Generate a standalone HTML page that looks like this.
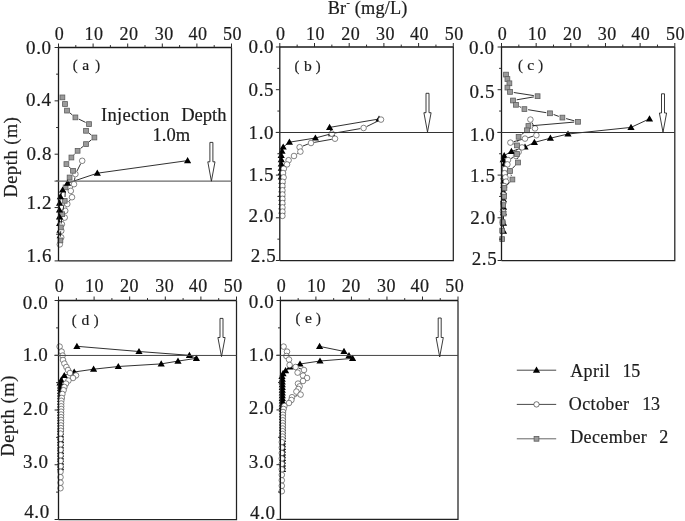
<!DOCTYPE html>
<html lang="en"><head><meta charset="utf-8"><title>Br concentration depth profiles</title>
<style>
html,body{margin:0;padding:0;background:#fff;}
body{width:685px;height:521px;overflow:hidden;}
svg{display:block;}
text{font-family:"Liberation Serif", serif;fill:#1c1c1c;stroke:#1c1c1c;stroke-width:0.2px;}
.tk{font-size:18px;letter-spacing:0.5px;}
.ty{font-size:19px;letter-spacing:0.6px;}
.lb{font-size:14.6px;letter-spacing:0.25px;}
.ti{font-size:17.5px;letter-spacing:0.5px;}
.lg{font-size:18px;letter-spacing:0.37px;}
.an{font-size:18.5px;letter-spacing:0.33px;}
</style></head><body>
<svg width="685" height="521" viewBox="0 0 685 521">
<rect x="0" y="0" width="685" height="521" fill="#fff"/>
<text x="327.7" y="14.1" class="ti" style="font-size:18.3px;letter-spacing:0.2px">Br<tspan dy="-8.5" font-size="10">-</tspan><tspan dy="8.5"> (mg/L)</tspan></text>
<text transform="translate(16.9,157) rotate(-90)" text-anchor="middle" class="ti" style="font-size:18.3px;letter-spacing:0.6px">Depth (m)</text>
<text transform="translate(13.8,415.8) rotate(-90)" text-anchor="middle" class="ti" style="font-size:18.3px;letter-spacing:0.65px">Depth (m)</text>
<g id="panel-a">
<path d="M187.6,160.6 L97.3,173.2 L67.5,183.2 L62.6,190.0 L60.4,196.6 L59.6,203.2 L59.5,210.0 L59.5,216.8 L59.6,223.5 L60.0,230.2 L60.2,235.6" fill="none" stroke="#1a1a1a" stroke-width="0.9"/>
<path d="M56.0,226.1 L63.2,226.1 L59.6,219.9 Z M56.4,232.8 L63.6,232.8 L60.0,226.6 Z M56.6,238.2 L63.8,238.2 L60.2,232.0 Z" fill="#000" stroke="none"/>
<path d="M80.7,163.7 L76.9,171.2 M74.9,177.4 L74.5,180.9 M72.6,187.2 L72.2,187.9 M70.1,199.9 L69.2,201.3 M66.3,207.2 L66.2,207.6 M63.4,220.6 L63.2,221.2 M60.6,240.6 L60.4,241.2" fill="none" stroke="#1a1a1a" stroke-width="0.9"/>
<g fill="#fff" stroke="#444" stroke-width="0.65">
<circle cx="82.2" cy="160.8" r="2.8"/>
<circle cx="75.4" cy="174.1" r="2.8"/>
<circle cx="74.0" cy="184.2" r="2.8"/>
<circle cx="70.8" cy="190.9" r="2.8"/>
<circle cx="72.0" cy="197.2" r="2.8"/>
<circle cx="67.3" cy="204.0" r="2.8"/>
<circle cx="65.2" cy="210.8" r="2.8"/>
<circle cx="64.7" cy="217.6" r="2.8"/>
<circle cx="61.9" cy="224.2" r="2.8"/>
<circle cx="61.3" cy="230.8" r="2.8"/>
<circle cx="61.2" cy="237.4" r="2.8"/>
<circle cx="59.8" cy="244.4" r="2.8"/>
</g>
<path d="M70.0,113.0 L72.4,115.0 M78.8,119.1 L85.6,122.4 M89.0,133.2 L91.4,135.1 M91.4,139.8 L89.0,141.8 M83.0,146.5 L80.6,148.4 M75.0,153.6 L74.0,154.7 M69.1,160.5 L68.7,161.1 M69.1,166.8 L70.3,168.1 M68.2,181.0 L67.0,183.9 M65.3,191.2 L65.0,197.0 M64.0,204.5 L62.9,210.5 M61.8,218.0 L61.2,223.6 M60.7,231.2 L60.5,236.6" fill="none" stroke="#1a1a1a" stroke-width="0.9"/>
<g fill="#9a9a9a" stroke="#5e5e5e" stroke-width="0.8">
<rect x="60.0" y="95.0" width="4.8" height="4.8"/>
<rect x="62.6" y="101.6" width="4.8" height="4.8"/>
<rect x="64.6" y="108.2" width="4.8" height="4.8"/>
<rect x="73.0" y="115.0" width="4.8" height="4.8"/>
<rect x="86.6" y="121.7" width="4.8" height="4.8"/>
<rect x="83.6" y="128.4" width="4.8" height="4.8"/>
<rect x="92.0" y="135.1" width="4.8" height="4.8"/>
<rect x="83.6" y="141.7" width="4.8" height="4.8"/>
<rect x="75.2" y="148.4" width="4.8" height="4.8"/>
<rect x="69.0" y="155.1" width="4.8" height="4.8"/>
<rect x="64.0" y="161.7" width="4.8" height="4.8"/>
<rect x="70.6" y="168.4" width="4.8" height="4.8"/>
<rect x="67.2" y="175.1" width="4.8" height="4.8"/>
<rect x="63.2" y="185.0" width="4.8" height="4.8"/>
<rect x="62.3" y="198.4" width="4.8" height="4.8"/>
<rect x="59.8" y="211.8" width="4.8" height="4.8"/>
<rect x="58.4" y="225.0" width="4.8" height="4.8"/>
<rect x="58.0" y="238.0" width="4.8" height="4.8"/>
</g>
<path d="M184.0,163.2 L191.2,163.2 L187.6,157.0 Z M93.7,175.8 L100.9,175.8 L97.3,169.6 Z M63.9,185.8 L71.1,185.8 L67.5,179.6 Z M59.0,192.6 L66.2,192.6 L62.6,186.4 Z M56.8,199.2 L64.0,199.2 L60.4,193.0 Z M56.0,205.8 L63.2,205.8 L59.6,199.6 Z M55.9,212.6 L63.1,212.6 L59.5,206.4 Z M55.9,219.4 L63.1,219.4 L59.5,213.2 Z" fill="#000" stroke="none"/>
<path d="M58.5,260.9 L58.5,47.5 L231.5,47.5" fill="none" stroke="#1a1a1a" stroke-width="1.3"/>
<path d="M58.5,260.9 L231.5,260.9 L231.5,47.5" fill="none" stroke="#222" stroke-width="1.25"/>
<path d="M58.50,47.5 v-4.0 M75.80,47.5 v-2.4 M93.10,47.5 v-4.0 M110.40,47.5 v-2.4 M127.70,47.5 v-4.0 M145.00,47.5 v-2.4 M162.30,47.5 v-4.0 M179.60,47.5 v-2.4 M196.90,47.5 v-4.0 M214.20,47.5 v-2.4 M231.50,47.5 v-4.0 M58.5,47.50 h-3.9 M58.5,74.17 h-2.4 M58.5,100.85 h-3.9 M58.5,127.52 h-2.4 M58.5,154.20 h-3.9 M58.5,180.88 h-2.4 M58.5,207.55 h-3.9 M58.5,234.22 h-2.4 M58.5,260.90 h-3.9" fill="none" stroke="#2a2a2a" stroke-width="1"/>
<text x="59.5" y="40.3" text-anchor="middle" class="tk">0</text>
<text x="94.1" y="40.3" text-anchor="middle" class="tk">10</text>
<text x="129.1" y="40.3" text-anchor="middle" class="tk">20</text>
<text x="164.2" y="40.3" text-anchor="middle" class="tk">30</text>
<text x="197.9" y="40.3" text-anchor="middle" class="tk">40</text>
<text x="232.5" y="40.3" text-anchor="middle" class="tk">50</text>
<text x="51.6" y="54.0" text-anchor="end" class="ty">0.0</text>
<text x="51.6" y="105.8" text-anchor="end" class="ty">0.4</text>
<text x="52.0" y="160.0" text-anchor="end" class="ty">0.8</text>
<text x="52.0" y="209.4" text-anchor="end" class="ty">1.2</text>
<text x="52.0" y="261.5" text-anchor="end" class="ty">1.6</text>
<path d="M54.5,181.03 H231.5" stroke="#6a6a6a" stroke-width="1.3" fill="none"/>
<path d="M209.9,142.4 H212.9 V161.8 H215.0 L211.4,181.2 L207.8,161.8 H209.9 Z" fill="#fff" stroke="#262626" stroke-width="0.9" stroke-linejoin="miter"/>
<text y="70.2" class="lb"><tspan x="72.7">(</tspan> <tspan x="82.3" style="font-size:15.6px">a</tspan> <tspan x="95.2">)</tspan></text>
</g>
<g id="panel-b">
<path d="M379.0,119.0 L329.6,127.4 L331.6,133.7 L315.4,138.0 L289.4,142.2 L283.2,147.0 L282.0,151.2 L281.2,155.4 L281.3,159.7 L281.3,164.0 L281.3,168.2 L281.3,172.5 L281.3,176.8 L281.9,181.1 L281.9,185.3 L281.9,189.6 L281.9,193.9 L281.9,198.1 L281.9,202.4 L281.9,206.7 L281.9,210.9" fill="none" stroke="#1a1a1a" stroke-width="0.9"/>
<path d="M375.4,121.6 L382.6,121.6 L379.0,115.4 Z M326.0,130.0 L333.2,130.0 L329.6,123.8 Z M328.0,136.3 L335.2,136.3 L331.6,130.1 Z M311.8,140.6 L319.0,140.6 L315.4,134.4 Z M285.8,144.8 L293.0,144.8 L289.4,138.6 Z M279.6,149.6 L286.8,149.6 L283.2,143.4 Z M278.4,153.8 L285.6,153.8 L282.0,147.6 Z M277.6,158.0 L284.8,158.0 L281.2,151.8 Z M277.7,162.3 L284.9,162.3 L281.3,156.1 Z M277.7,166.6 L284.9,166.6 L281.3,160.4 Z M277.7,170.8 L284.9,170.8 L281.3,164.6 Z M277.7,175.1 L284.9,175.1 L281.3,168.9 Z M277.7,179.4 L284.9,179.4 L281.3,173.2 Z M278.3,183.7 L285.5,183.7 L281.9,177.5 Z M278.3,187.9 L285.5,187.9 L281.9,181.7 Z M278.3,192.2 L285.5,192.2 L281.9,186.0 Z M278.3,196.5 L285.5,196.5 L281.9,190.3 Z M278.3,200.7 L285.5,200.7 L281.9,194.5 Z M278.3,205.0 L285.5,205.0 L281.9,198.8 Z M278.3,209.3 L285.5,209.3 L281.9,203.1 Z M278.3,213.5 L285.5,213.5 L281.9,207.3 Z" fill="#000" stroke="none"/>
<path d="M378.0,121.0 L366.6,126.6 M360.4,128.6 L335.0,133.0 M331.8,139.3 L314.2,142.4 M307.9,144.1 L302.7,146.1 M297.7,153.5 L296.7,154.1" fill="none" stroke="#1a1a1a" stroke-width="0.9"/>
<g fill="#fff" stroke="#444" stroke-width="0.65">
<circle cx="381.0" cy="119.6" r="2.8"/>
<circle cx="363.6" cy="128.0" r="2.8"/>
<circle cx="331.8" cy="133.6" r="2.8"/>
<circle cx="335.0" cy="138.7" r="2.8"/>
<circle cx="311.0" cy="143.0" r="2.8"/>
<circle cx="299.6" cy="147.2" r="2.8"/>
<circle cx="300.4" cy="151.6" r="2.8"/>
<circle cx="294.0" cy="156.0" r="2.8"/>
<circle cx="288.6" cy="160.2" r="2.8"/>
<circle cx="287.0" cy="164.4" r="2.8"/>
<circle cx="283.8" cy="168.8" r="2.8"/>
<circle cx="283.0" cy="173.0" r="2.8"/>
<circle cx="283.6" cy="177.4" r="2.8"/>
<circle cx="282.6" cy="181.8" r="2.8"/>
<circle cx="282.4" cy="186.0" r="2.8"/>
<circle cx="282.4" cy="190.3" r="2.8"/>
<circle cx="282.4" cy="194.5" r="2.8"/>
<circle cx="282.4" cy="198.8" r="2.8"/>
<circle cx="282.4" cy="203.1" r="2.8"/>
<circle cx="282.4" cy="207.4" r="2.8"/>
<circle cx="282.4" cy="211.6" r="2.8"/>
<circle cx="282.4" cy="215.9" r="2.8"/>
</g>
<path d="M279.8,260.5 L279.8,47.0 L453.3,47.0" fill="none" stroke="#1a1a1a" stroke-width="1.3"/>
<path d="M279.8,260.5 L453.3,260.5 L453.3,47.0" fill="none" stroke="#222" stroke-width="1.25"/>
<path d="M279.80,47.0 v-4.0 M297.15,47.0 v-2.4 M314.50,47.0 v-4.0 M331.85,47.0 v-2.4 M349.20,47.0 v-4.0 M366.55,47.0 v-2.4 M383.90,47.0 v-4.0 M401.25,47.0 v-2.4 M418.60,47.0 v-4.0 M435.95,47.0 v-2.4 M453.30,47.0 v-4.0 M279.8,47.00 h-3.9 M279.8,68.35 h-2.4 M279.8,89.70 h-3.9 M279.8,111.05 h-2.4 M279.8,132.40 h-3.9 M279.8,153.75 h-2.4 M279.8,175.10 h-3.9 M279.8,196.45 h-2.4 M279.8,217.80 h-3.9 M279.8,239.15 h-2.4 M279.8,260.50 h-3.9" fill="none" stroke="#2a2a2a" stroke-width="1"/>
<text x="280.8" y="39.8" text-anchor="middle" class="tk">0</text>
<text x="315.5" y="39.8" text-anchor="middle" class="tk">10</text>
<text x="350.7" y="39.8" text-anchor="middle" class="tk">20</text>
<text x="385.6" y="39.8" text-anchor="middle" class="tk">30</text>
<text x="419.6" y="39.8" text-anchor="middle" class="tk">40</text>
<text x="454.3" y="39.8" text-anchor="middle" class="tk">50</text>
<text x="274.1" y="52.5" text-anchor="end" class="ty">0.0</text>
<text x="274.1" y="95.7" text-anchor="end" class="ty">0.5</text>
<text x="274.1" y="138.9" text-anchor="end" class="ty">1.0</text>
<text x="274.1" y="180.6" text-anchor="end" class="ty">1.5</text>
<text x="274.1" y="222.4" text-anchor="end" class="ty">2.0</text>
<text x="276.4" y="262.4" text-anchor="end" class="ty">2.5</text>
<path d="M275.8,132.50 H453.3" stroke="#333" stroke-width="1.0" fill="none"/>
<path d="M426.0,93.3 H429.0 V112.7 H431.1 L427.5,132.0 L423.9,112.7 H426.0 Z" fill="#fff" stroke="#262626" stroke-width="0.9" stroke-linejoin="miter"/>
<text y="70.6" class="lb"><tspan x="294.4">(</tspan> <tspan x="304.0" style="font-size:15.6px">b</tspan> <tspan x="315.7">)</tspan></text>
</g>
<g id="panel-c">
<path d="M649.5,118.8 L631.0,127.4 L568.0,134.0 L550.4,138.2 L534.4,142.4 L525.0,147.0 L511.4,151.4 L504.2,155.6 L503.2,159.6 L504.4,163.9 L504.4,168.2 L504.4,172.4 L503.8,176.7 L503.8,181.0 L503.8,185.3 L503.5,191.6 L503.5,199.6 L503.5,207.2 L503.5,212.6 L503.5,223.2 L503.5,231.2" fill="none" stroke="#1a1a1a" stroke-width="0.9"/>
<path d="M645.9,121.4 L653.1,121.4 L649.5,115.2 Z M627.4,130.0 L634.6,130.0 L631.0,123.8 Z M564.4,136.6 L571.6,136.6 L568.0,130.4 Z M546.8,140.8 L554.0,140.8 L550.4,134.6 Z M530.8,145.0 L538.0,145.0 L534.4,138.8 Z M521.4,149.6 L528.6,149.6 L525.0,143.4 Z M507.8,154.0 L515.0,154.0 L511.4,147.8 Z M500.6,158.2 L507.8,158.2 L504.2,152.0 Z M499.6,162.2 L506.8,162.2 L503.2,156.0 Z M500.8,166.5 L508.0,166.5 L504.4,160.3 Z M500.8,170.8 L508.0,170.8 L504.4,164.6 Z M500.8,175.0 L508.0,175.0 L504.4,168.8 Z M500.2,179.3 L507.4,179.3 L503.8,173.1 Z M500.2,183.6 L507.4,183.6 L503.8,177.4 Z M500.2,187.9 L507.4,187.9 L503.8,181.7 Z M499.9,194.2 L507.1,194.2 L503.5,188.0 Z M499.9,202.2 L507.1,202.2 L503.5,196.0 Z M499.9,209.8 L507.1,209.8 L503.5,203.6 Z M499.9,215.2 L507.1,215.2 L503.5,209.0 Z M499.9,225.8 L507.1,225.8 L503.5,219.6 Z M499.9,233.8 L507.1,233.8 L503.5,227.6 Z" fill="#000" stroke="none"/>
<path d="M531.9,122.5 L533.5,125.5 M533.2,136.1 L528.2,137.7 M521.8,139.5 L513.6,141.7 M513.4,143.9 L519.0,146.1 M513.0,157.5 L511.0,158.5 M503.8,189.3 L503.6,191.2 M503.3,197.8 L503.3,199.7 M503.1,206.3 L503.1,208.3 M502.9,214.9 L502.9,219.0" fill="none" stroke="#1a1a1a" stroke-width="0.9"/>
<g fill="#fff" stroke="#444" stroke-width="0.65">
<circle cx="530.4" cy="119.6" r="2.8"/>
<circle cx="535.0" cy="128.4" r="2.8"/>
<circle cx="536.4" cy="135.2" r="2.8"/>
<circle cx="525.0" cy="138.6" r="2.8"/>
<circle cx="510.4" cy="142.6" r="2.8"/>
<circle cx="522.0" cy="147.4" r="2.8"/>
<circle cx="518.6" cy="152.0" r="2.8"/>
<circle cx="516.0" cy="156.0" r="2.8"/>
<circle cx="508.0" cy="160.0" r="2.8"/>
<circle cx="507.4" cy="164.4" r="2.8"/>
<circle cx="505.0" cy="169.0" r="2.8"/>
<circle cx="504.6" cy="173.2" r="2.8"/>
<circle cx="505.4" cy="177.4" r="2.8"/>
<circle cx="506.0" cy="181.6" r="2.8"/>
<circle cx="504.0" cy="186.0" r="2.8"/>
<circle cx="503.4" cy="194.5" r="2.8"/>
<circle cx="503.2" cy="203.0" r="2.8"/>
<circle cx="503.0" cy="211.6" r="2.8"/>
<circle cx="502.8" cy="222.3" r="2.8"/>
</g>
<path d="M513.8,92.5 L533.8,95.6 M533.9,96.9 L516.7,99.8 M519.4,106.5 L521.0,107.4 M528.1,109.7 L546.3,112.7 M553.6,114.5 L558.8,116.4 M566.1,118.6 L574.3,120.8 M574.2,122.1 L532.2,125.7 M524.0,132.6 L521.6,134.5 M517.9,140.5 L517.7,141.7 M517.0,149.2 L517.0,150.2 M517.4,157.8 L517.6,158.7 M515.4,165.3 L512.6,168.2 M511.0,174.7 L511.4,175.8 M509.8,182.3 L507.0,185.2 M504.2,191.8 L504.2,192.8 M503.6,200.4 L503.6,201.3 M503.4,208.9 L503.4,209.8 M503.1,217.4 L503.0,218.3 M502.4,225.9 L502.3,226.8 M502.2,234.4 L502.2,235.3" fill="none" stroke="#1a1a1a" stroke-width="0.9"/>
<g fill="#9a9a9a" stroke="#5e5e5e" stroke-width="0.8">
<rect x="503.6" y="72.2" width="4.8" height="4.8"/>
<rect x="505.0" y="76.6" width="4.8" height="4.8"/>
<rect x="507.0" y="80.9" width="4.8" height="4.8"/>
<rect x="505.0" y="85.2" width="4.8" height="4.8"/>
<rect x="507.6" y="89.5" width="4.8" height="4.8"/>
<rect x="535.2" y="93.8" width="4.8" height="4.8"/>
<rect x="510.6" y="98.1" width="4.8" height="4.8"/>
<rect x="513.6" y="102.4" width="4.8" height="4.8"/>
<rect x="522.0" y="106.7" width="4.8" height="4.8"/>
<rect x="547.6" y="110.9" width="4.8" height="4.8"/>
<rect x="560.0" y="115.2" width="4.8" height="4.8"/>
<rect x="575.6" y="119.4" width="4.8" height="4.8"/>
<rect x="526.0" y="123.6" width="4.8" height="4.8"/>
<rect x="524.6" y="127.9" width="4.8" height="4.8"/>
<rect x="516.2" y="134.4" width="4.8" height="4.8"/>
<rect x="514.6" y="143.0" width="4.8" height="4.8"/>
<rect x="514.6" y="151.6" width="4.8" height="4.8"/>
<rect x="515.6" y="160.1" width="4.8" height="4.8"/>
<rect x="507.6" y="168.6" width="4.8" height="4.8"/>
<rect x="510.0" y="177.1" width="4.8" height="4.8"/>
<rect x="502.0" y="185.6" width="4.8" height="4.8"/>
<rect x="501.6" y="194.2" width="4.8" height="4.8"/>
<rect x="500.8" y="202.7" width="4.8" height="4.8"/>
<rect x="501.2" y="211.2" width="4.8" height="4.8"/>
<rect x="500.1" y="219.7" width="4.8" height="4.8"/>
<rect x="499.8" y="228.2" width="4.8" height="4.8"/>
<rect x="499.8" y="236.7" width="4.8" height="4.8"/>
</g>
<path d="M501.5,260.5 L501.5,47.0 L674.8,47.0" fill="none" stroke="#1a1a1a" stroke-width="1.3"/>
<path d="M501.5,260.5 L674.8,260.5 L674.8,47.0" fill="none" stroke="#222" stroke-width="1.25"/>
<path d="M501.50,47.0 v-4.0 M518.83,47.0 v-2.4 M536.16,47.0 v-4.0 M553.49,47.0 v-2.4 M570.82,47.0 v-4.0 M588.15,47.0 v-2.4 M605.48,47.0 v-4.0 M622.81,47.0 v-2.4 M640.14,47.0 v-4.0 M657.47,47.0 v-2.4 M674.80,47.0 v-4.0 M501.5,47.00 h-3.9 M501.5,68.35 h-2.4 M501.5,89.70 h-3.9 M501.5,111.05 h-2.4 M501.5,132.40 h-3.9 M501.5,153.75 h-2.4 M501.5,175.10 h-3.9 M501.5,196.45 h-2.4 M501.5,217.80 h-3.9 M501.5,239.15 h-2.4 M501.5,260.50 h-3.9" fill="none" stroke="#2a2a2a" stroke-width="1"/>
<text x="502.5" y="39.8" text-anchor="middle" class="tk">0</text>
<text x="537.2" y="39.8" text-anchor="middle" class="tk">10</text>
<text x="572.4" y="39.8" text-anchor="middle" class="tk">20</text>
<text x="607.2" y="39.8" text-anchor="middle" class="tk">30</text>
<text x="640.8" y="39.8" text-anchor="middle" class="tk">40</text>
<text x="675.5" y="39.8" text-anchor="middle" class="tk">50</text>
<text x="494.6" y="54.2" text-anchor="end" class="ty">0.0</text>
<text x="495.0" y="97.5" text-anchor="end" class="ty">0.5</text>
<text x="495.3" y="140.7" text-anchor="end" class="ty">1.0</text>
<text x="495.5" y="181.9" text-anchor="end" class="ty">1.5</text>
<text x="495.8" y="223.8" text-anchor="end" class="ty">2.0</text>
<text x="497.3" y="264.5" text-anchor="end" class="ty">2.5</text>
<path d="M497.5,132.50 H674.8" stroke="#333" stroke-width="1.0" fill="none"/>
<path d="M661.5,93.8 H664.5 V113.0 H666.6 L663.0,132.2 L659.4,113.0 H661.5 Z" fill="#fff" stroke="#262626" stroke-width="0.9" stroke-linejoin="miter"/>
<text y="69.6" class="lb"><tspan x="518.0">(</tspan> <tspan x="527.2" style="font-size:15.6px">c</tspan> <tspan x="538.2">)</tspan></text>
</g>
<g id="panel-d">
<path d="M76.9,346.3 L139.0,351.5 L189.4,355.3 L196.4,358.3 L178.0,361.1 L161.2,363.9 L118.3,366.5 L93.6,369.2 L74.2,372.0 L64.3,375.5 L61.2,380.2 L60.0,383.0 L60.6,385.8 L60.6,388.5 L60.6,391.3 L60.6,394.0 L60.6,396.7 L60.6,399.5 L60.6,402.2 L60.6,404.9 L60.6,407.6 L60.6,410.4 L60.6,413.1 L60.6,415.8 L60.6,418.6 L60.6,421.3 L60.6,424.0 L60.6,426.8 L60.6,429.5 L60.6,432.2 L60.6,434.9 L60.6,437.7 L60.6,440.4 L60.6,443.1 L60.6,445.9 L60.6,448.6 L60.6,451.3 L60.6,454.1 L60.6,456.8 L60.6,459.5 L60.6,462.2 L60.6,465.0 L60.6,467.7" fill="none" stroke="#1a1a1a" stroke-width="0.9"/>
<path d="M73.3,348.9 L80.5,348.9 L76.9,342.7 Z M135.4,354.1 L142.6,354.1 L139.0,347.9 Z M185.8,357.9 L193.0,357.9 L189.4,351.7 Z M192.8,360.9 L200.0,360.9 L196.4,354.7 Z M174.4,363.7 L181.6,363.7 L178.0,357.5 Z M157.6,366.5 L164.8,366.5 L161.2,360.3 Z M114.7,369.1 L121.9,369.1 L118.3,362.9 Z M90.0,371.8 L97.2,371.8 L93.6,365.6 Z M70.6,374.6 L77.8,374.6 L74.2,368.4 Z M60.7,378.1 L67.9,378.1 L64.3,371.9 Z M57.6,382.8 L64.8,382.8 L61.2,376.6 Z M56.4,385.6 L63.6,385.6 L60.0,379.4 Z M57.0,388.4 L64.2,388.4 L60.6,382.2 Z M57.0,391.1 L64.2,391.1 L60.6,384.9 Z M57.0,393.9 L64.2,393.9 L60.6,387.7 Z M57.0,396.6 L64.2,396.6 L60.6,390.4 Z M57.0,399.3 L64.2,399.3 L60.6,393.1 Z M57.0,402.1 L64.2,402.1 L60.6,395.9 Z M57.0,404.8 L64.2,404.8 L60.6,398.6 Z M57.0,407.5 L64.2,407.5 L60.6,401.3 Z M57.0,410.2 L64.2,410.2 L60.6,404.0 Z M57.0,413.0 L64.2,413.0 L60.6,406.8 Z M57.0,415.7 L64.2,415.7 L60.6,409.5 Z M57.0,418.4 L64.2,418.4 L60.6,412.2 Z M57.0,421.2 L64.2,421.2 L60.6,415.0 Z M57.0,423.9 L64.2,423.9 L60.6,417.7 Z M57.0,426.6 L64.2,426.6 L60.6,420.4 Z M57.0,429.4 L64.2,429.4 L60.6,423.2 Z M57.0,432.1 L64.2,432.1 L60.6,425.9 Z M57.0,434.8 L64.2,434.8 L60.6,428.6 Z M57.0,437.5 L64.2,437.5 L60.6,431.3 Z M57.0,440.3 L64.2,440.3 L60.6,434.1 Z M57.0,443.0 L64.2,443.0 L60.6,436.8 Z M57.0,445.7 L64.2,445.7 L60.6,439.5 Z M57.0,448.5 L64.2,448.5 L60.6,442.3 Z M57.0,451.2 L64.2,451.2 L60.6,445.0 Z M57.0,453.9 L64.2,453.9 L60.6,447.7 Z M57.0,456.7 L64.2,456.7 L60.6,450.5 Z M57.0,459.4 L64.2,459.4 L60.6,453.2 Z M57.0,462.1 L64.2,462.1 L60.6,455.9 Z M57.0,464.8 L64.2,464.8 L60.6,458.6 Z M57.0,467.6 L64.2,467.6 L60.6,461.4 Z M57.0,470.3 L64.2,470.3 L60.6,464.1 Z" fill="#000" stroke="none"/>
<g fill="#fff" stroke="#444" stroke-width="0.65">
<circle cx="59.6" cy="346.6" r="2.8"/>
<circle cx="61.6" cy="351.6" r="2.8"/>
<circle cx="62.6" cy="355.6" r="2.8"/>
<circle cx="63.0" cy="360.0" r="2.8"/>
<circle cx="64.4" cy="363.6" r="2.8"/>
<circle cx="66.4" cy="367.0" r="2.8"/>
<circle cx="68.0" cy="370.0" r="2.8"/>
<circle cx="70.0" cy="373.0" r="2.8"/>
<circle cx="76.0" cy="375.4" r="2.8"/>
<circle cx="73.0" cy="378.0" r="2.8"/>
<circle cx="68.4" cy="380.6" r="2.8"/>
<circle cx="66.0" cy="383.6" r="2.8"/>
<circle cx="64.4" cy="387.0" r="2.8"/>
<circle cx="63.6" cy="390.2" r="2.8"/>
<circle cx="62.4" cy="394.0" r="2.8"/>
<circle cx="61.8" cy="398.0" r="2.8"/>
<circle cx="61.3" cy="400.8" r="2.8"/>
<circle cx="61.2" cy="403.5" r="2.8"/>
<circle cx="61.2" cy="406.3" r="2.8"/>
<circle cx="61.2" cy="409.0" r="2.8"/>
<circle cx="61.1" cy="411.7" r="2.8"/>
<circle cx="61.1" cy="414.5" r="2.8"/>
<circle cx="61.0" cy="417.2" r="2.8"/>
<circle cx="61.0" cy="419.9" r="2.8"/>
<circle cx="61.0" cy="422.6" r="2.8"/>
<circle cx="60.9" cy="425.4" r="2.8"/>
<circle cx="60.9" cy="428.1" r="2.8"/>
<circle cx="60.8" cy="430.8" r="2.8"/>
<circle cx="60.5" cy="433.6" r="2.8"/>
<circle cx="60.5" cy="439.0" r="2.8"/>
<circle cx="60.5" cy="444.5" r="2.8"/>
<circle cx="60.5" cy="449.9" r="2.8"/>
<circle cx="60.5" cy="455.4" r="2.8"/>
<circle cx="60.5" cy="460.9" r="2.8"/>
<circle cx="60.5" cy="466.3" r="2.8"/>
<circle cx="60.5" cy="471.8" r="2.8"/>
<circle cx="60.5" cy="477.2" r="2.8"/>
<circle cx="60.5" cy="482.7" r="2.8"/>
<circle cx="60.5" cy="488.2" r="2.8"/>
</g>
<path d="M58.5,519.5 L58.5,300.5 L236.5,300.5" fill="none" stroke="#1a1a1a" stroke-width="1.3"/>
<path d="M58.5,519.5 L236.5,519.5 L236.5,300.5" fill="none" stroke="#222" stroke-width="1.25"/>
<path d="M58.50,300.5 v-4.0 M76.30,300.5 v-2.4 M94.10,300.5 v-4.0 M111.90,300.5 v-2.4 M129.70,300.5 v-4.0 M147.50,300.5 v-2.4 M165.30,300.5 v-4.0 M183.10,300.5 v-2.4 M200.90,300.5 v-4.0 M218.70,300.5 v-2.4 M236.50,300.5 v-4.0 M58.5,300.50 h-3.9 M58.5,327.88 h-2.4 M58.5,355.25 h-3.9 M58.5,382.62 h-2.4 M58.5,410.00 h-3.9 M58.5,437.38 h-2.4 M58.5,464.75 h-3.9 M58.5,492.12 h-2.4 M58.5,519.50 h-3.9" fill="none" stroke="#2a2a2a" stroke-width="1"/>
<text x="59.5" y="292.3" text-anchor="middle" class="tk">0</text>
<text x="94.6" y="292.3" text-anchor="middle" class="tk">10</text>
<text x="129.5" y="292.3" text-anchor="middle" class="tk">20</text>
<text x="164.7" y="292.3" text-anchor="middle" class="tk">30</text>
<text x="198.2" y="292.3" text-anchor="middle" class="tk">40</text>
<text x="233.3" y="292.3" text-anchor="middle" class="tk">50</text>
<text x="48.4" y="308.8" text-anchor="end" class="ty">0.0</text>
<text x="48.4" y="361.2" text-anchor="end" class="ty">1.0</text>
<text x="48.6" y="415.2" text-anchor="end" class="ty">2.0</text>
<text x="48.6" y="468.2" text-anchor="end" class="ty">3.0</text>
<text x="49.8" y="518.2" text-anchor="end" class="ty">4.0</text>
<path d="M54.5,355.45 H236.5" stroke="#444" stroke-width="1.0" fill="none"/>
<path d="M220.0,318.4 H223.0 V337.5 H225.1 L221.5,356.6 L217.9,337.5 H220.0 Z" fill="#fff" stroke="#262626" stroke-width="0.9" stroke-linejoin="miter"/>
<text y="325.0" class="lb"><tspan x="71.7">(</tspan> <tspan x="81.4" style="font-size:15.6px">d</tspan> <tspan x="93.7">)</tspan></text>
</g>
<g id="panel-e">
<path d="M319.6,346.4 L344.0,351.4 L349.0,355.6 L352.6,358.4 L320.0,361.0 L300.0,364.0 L290.0,367.0 L285.6,370.6 L283.0,373.6 L282.0,376.4 L282.3,379.2 L282.3,381.9 L282.3,384.7 L282.3,387.4 L282.3,390.1 L282.3,392.9 L282.3,395.6 L282.3,398.3 L282.3,401.0 L282.3,403.8 L282.3,406.5 L282.3,409.2 L282.5,412.0 L282.5,414.7 L282.5,417.4 L282.5,420.2 L282.5,422.9 L282.5,425.6 L282.5,428.3 L282.5,431.1 L282.5,433.8 L282.5,436.5 L282.5,439.3 L282.5,442.0 L282.5,444.7 L282.5,447.5 L282.5,450.2 L282.5,452.9 L282.5,455.6 L282.5,458.4 L282.5,461.1 L282.5,463.8 L282.5,466.6 L282.5,469.3" fill="none" stroke="#1a1a1a" stroke-width="0.9"/>
<path d="M316.0,349.0 L323.2,349.0 L319.6,342.8 Z M340.4,354.0 L347.6,354.0 L344.0,347.8 Z M345.4,358.2 L352.6,358.2 L349.0,352.0 Z M349.0,361.0 L356.2,361.0 L352.6,354.8 Z M316.4,363.6 L323.6,363.6 L320.0,357.4 Z M296.4,366.6 L303.6,366.6 L300.0,360.4 Z M286.4,369.6 L293.6,369.6 L290.0,363.4 Z M282.0,373.2 L289.2,373.2 L285.6,367.0 Z M279.4,376.2 L286.6,376.2 L283.0,370.0 Z M278.4,379.0 L285.6,379.0 L282.0,372.8 Z M278.7,381.8 L285.9,381.8 L282.3,375.6 Z M278.7,384.5 L285.9,384.5 L282.3,378.3 Z M278.7,387.3 L285.9,387.3 L282.3,381.1 Z M278.7,390.0 L285.9,390.0 L282.3,383.8 Z M278.7,392.7 L285.9,392.7 L282.3,386.5 Z M278.7,395.5 L285.9,395.5 L282.3,389.3 Z M278.7,398.2 L285.9,398.2 L282.3,392.0 Z M278.7,400.9 L285.9,400.9 L282.3,394.7 Z M278.7,403.6 L285.9,403.6 L282.3,397.4 Z M278.7,406.4 L285.9,406.4 L282.3,400.2 Z M278.7,409.1 L285.9,409.1 L282.3,402.9 Z M278.7,411.8 L285.9,411.8 L282.3,405.6 Z M278.9,414.6 L286.1,414.6 L282.5,408.4 Z M278.9,417.3 L286.1,417.3 L282.5,411.1 Z M278.9,420.0 L286.1,420.0 L282.5,413.8 Z M278.9,422.8 L286.1,422.8 L282.5,416.6 Z M278.9,425.5 L286.1,425.5 L282.5,419.3 Z M278.9,428.2 L286.1,428.2 L282.5,422.0 Z M278.9,430.9 L286.1,430.9 L282.5,424.7 Z M278.9,433.7 L286.1,433.7 L282.5,427.5 Z M278.9,436.4 L286.1,436.4 L282.5,430.2 Z M278.9,439.1 L286.1,439.1 L282.5,432.9 Z M278.9,441.9 L286.1,441.9 L282.5,435.7 Z M278.9,444.6 L286.1,444.6 L282.5,438.4 Z M278.9,447.3 L286.1,447.3 L282.5,441.1 Z M278.9,450.1 L286.1,450.1 L282.5,443.9 Z M278.9,452.8 L286.1,452.8 L282.5,446.6 Z M278.9,455.5 L286.1,455.5 L282.5,449.3 Z M278.9,458.2 L286.1,458.2 L282.5,452.0 Z M278.9,461.0 L286.1,461.0 L282.5,454.8 Z M278.9,463.7 L286.1,463.7 L282.5,457.5 Z M278.9,466.4 L286.1,466.4 L282.5,460.2 Z M278.9,469.2 L286.1,469.2 L282.5,463.0 Z M278.9,471.9 L286.1,471.9 L282.5,465.7 Z" fill="#000" stroke="none"/>
<path d="M298.7,368.1 L300.9,368.9 M297.4,395.6 L295.2,396.2" fill="none" stroke="#1a1a1a" stroke-width="0.9"/>
<g fill="#fff" stroke="#444" stroke-width="0.65">
<circle cx="283.6" cy="346.6" r="2.8"/>
<circle cx="287.0" cy="351.6" r="2.8"/>
<circle cx="286.4" cy="356.0" r="2.8"/>
<circle cx="289.0" cy="359.6" r="2.8"/>
<circle cx="289.6" cy="365.0" r="2.8"/>
<circle cx="295.6" cy="367.0" r="2.8"/>
<circle cx="304.0" cy="370.0" r="2.8"/>
<circle cx="297.6" cy="372.6" r="2.8"/>
<circle cx="303.0" cy="375.6" r="2.8"/>
<circle cx="307.0" cy="378.0" r="2.8"/>
<circle cx="303.0" cy="381.0" r="2.8"/>
<circle cx="298.0" cy="383.6" r="2.8"/>
<circle cx="299.6" cy="386.4" r="2.8"/>
<circle cx="298.4" cy="389.0" r="2.8"/>
<circle cx="296.4" cy="391.6" r="2.8"/>
<circle cx="300.6" cy="394.6" r="2.8"/>
<circle cx="292.0" cy="397.2" r="2.8"/>
<circle cx="291.4" cy="400.0" r="2.8"/>
<circle cx="289.0" cy="403.0" r="2.8"/>
<circle cx="284.4" cy="406.0" r="2.8"/>
<circle cx="283.6" cy="409.0" r="2.8"/>
<circle cx="283.0" cy="412.0" r="2.8"/>
<circle cx="282.9" cy="414.8" r="2.8"/>
<circle cx="282.8" cy="417.5" r="2.8"/>
<circle cx="282.8" cy="420.3" r="2.8"/>
<circle cx="282.7" cy="423.0" r="2.8"/>
<circle cx="282.7" cy="425.7" r="2.8"/>
<circle cx="282.6" cy="428.5" r="2.8"/>
<circle cx="282.6" cy="431.2" r="2.8"/>
<circle cx="282.5" cy="433.9" r="2.8"/>
<circle cx="282.5" cy="436.6" r="2.8"/>
<circle cx="282.4" cy="439.4" r="2.8"/>
<circle cx="281.8" cy="442.1" r="2.8"/>
<circle cx="281.8" cy="447.6" r="2.8"/>
<circle cx="281.8" cy="453.0" r="2.8"/>
<circle cx="281.8" cy="458.5" r="2.8"/>
<circle cx="281.8" cy="463.9" r="2.8"/>
<circle cx="281.8" cy="469.4" r="2.8"/>
<circle cx="281.8" cy="474.9" r="2.8"/>
<circle cx="281.8" cy="480.3" r="2.8"/>
<circle cx="281.8" cy="485.8" r="2.8"/>
<circle cx="281.8" cy="491.2" r="2.8"/>
</g>
<path d="M280.4,519.4 L280.4,300.5 L458.0,300.5" fill="none" stroke="#1a1a1a" stroke-width="1.3"/>
<path d="M280.4,519.4 L458.0,519.4 L458.0,300.5" fill="none" stroke="#222" stroke-width="1.25"/>
<path d="M280.40,300.5 v-4.0 M298.16,300.5 v-2.4 M315.92,300.5 v-4.0 M333.68,300.5 v-2.4 M351.44,300.5 v-4.0 M369.20,300.5 v-2.4 M386.96,300.5 v-4.0 M404.72,300.5 v-2.4 M422.48,300.5 v-4.0 M440.24,300.5 v-2.4 M458.00,300.5 v-4.0 M280.4,300.50 h-3.9 M280.4,327.86 h-2.4 M280.4,355.23 h-3.9 M280.4,382.59 h-2.4 M280.4,409.95 h-3.9 M280.4,437.31 h-2.4 M280.4,464.67 h-3.9 M280.4,492.04 h-2.4 M280.4,519.40 h-3.9" fill="none" stroke="#2a2a2a" stroke-width="1"/>
<text x="281.4" y="292.3" text-anchor="middle" class="tk">0</text>
<text x="316.4" y="292.3" text-anchor="middle" class="tk">10</text>
<text x="351.2" y="292.3" text-anchor="middle" class="tk">20</text>
<text x="386.4" y="292.3" text-anchor="middle" class="tk">30</text>
<text x="419.9" y="292.3" text-anchor="middle" class="tk">40</text>
<text x="454.8" y="292.3" text-anchor="middle" class="tk">50</text>
<text x="274.4" y="307.6" text-anchor="end" class="ty">0.0</text>
<text x="274.4" y="361.2" text-anchor="end" class="ty">1.0</text>
<text x="274.4" y="414.4" text-anchor="end" class="ty">2.0</text>
<text x="274.4" y="468.2" text-anchor="end" class="ty">3.0</text>
<text x="275.5" y="518.5" text-anchor="end" class="ty">4.0</text>
<path d="M276.4,355.43 H458.0" stroke="#444" stroke-width="1.0" fill="none"/>
<path d="M438.2,318.0 H441.2 V337.5 H443.3 L439.7,357.0 L436.09999999999997,337.5 H438.2 Z" fill="#fff" stroke="#262626" stroke-width="0.9" stroke-linejoin="miter"/>
<text y="323.2" class="lb"><tspan x="295.6">(</tspan> <tspan x="305.0" style="font-size:15.6px">e</tspan> <tspan x="316.1">)</tspan></text>
</g>
<text y="120.6" class="an"><tspan x="100.9">Injection</tspan> <tspan x="181.2" style="letter-spacing:0">Depth</tspan></text>
<text x="152.5" y="141" class="an" style="letter-spacing:0">1.0m</text>
<g id="legend">
<path d="M516.8,370.2 H556.2" stroke="#333" stroke-width="0.9" fill="none"/>
<path d="M532.9,372.8 L540.1,372.8 L536.5,366.6 Z" fill="#000" stroke="none"/>
<text y="376.8" class="lg"><tspan x="570.2">April</tspan> <tspan x="622.5" style="letter-spacing:-0.3px">15</tspan></text>
<path d="M516.8,404.4 H556.2" stroke="#333" stroke-width="0.9" fill="none"/>
<circle cx="536.5" cy="404.4" r="2.7" fill="#fff" stroke="#3a3a3a" stroke-width="0.7"/>
<text y="409.6" class="lg"><tspan x="568.8">October</tspan> <tspan x="642.2" style="letter-spacing:-0.3px">13</tspan></text>
<path d="M516.8,438.8 H556.2" stroke="#555" stroke-width="0.9" fill="none"/>
<rect x="534.1" y="436.40000000000003" width="4.8" height="4.8" fill="#9a9a9a" stroke="#5e5e5e" stroke-width="0.8"/>
<text y="443.3" class="lg"><tspan x="570.2">December</tspan> <tspan x="659.3000000000001" style="letter-spacing:-0.3px">2</tspan></text>
</g>
</svg></body></html>
